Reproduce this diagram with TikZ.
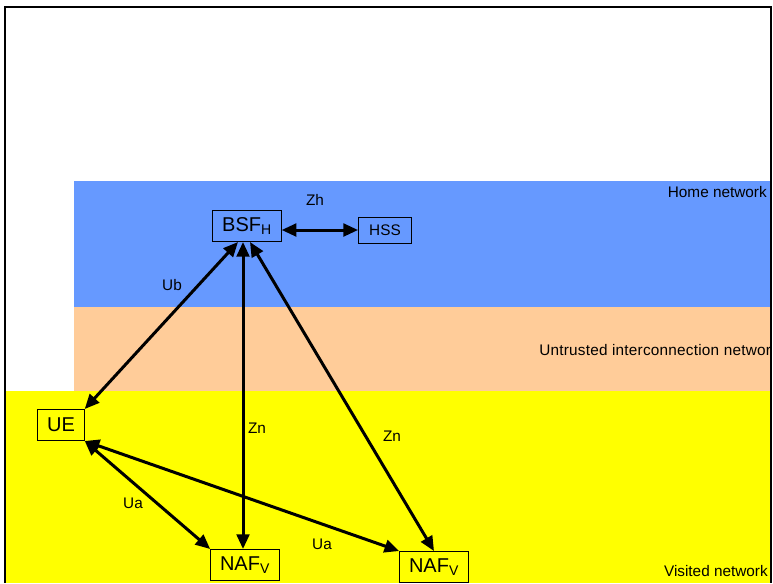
\documentclass[tikz,border=0pt]{standalone}
\usepackage{fontspec}
\setmainfont{Liberation Sans}
\usetikzlibrary{arrows.meta}
\definecolor{homeblue}{HTML}{6699FF}
\definecolor{transit}{HTML}{FFCC99}
\definecolor{visited}{HTML}{FFFF00}
\begin{document}
\begin{tikzpicture}[x=0.75pt,y=-0.75pt,
  box/.style={draw,line width=0.75pt,inner xsep=7pt,inner ysep=0pt,minimum height=23.25pt,font=\fontsize{15}{18}\selectfont},
  link/.style={line width=2.25pt,{Triangle[length=11pt,width=9.5pt]}-{Triangle[length=11pt,width=9.5pt]}},
  lbl/.style={font=\fontsize{11.5}{13}\selectfont,inner sep=0pt}]
\useasboundingbox (0,0) rectangle (773,583);
% network bands
\begin{scope}
\clip (5,7) rectangle (771,583);
\fill[homeblue] (74,181) rectangle (771,307);
\fill[transit] (74,307) rectangle (771,391);
\fill[visited] (5,391) rectangle (771,583);
\node[lbl,anchor=east] (home) at (767,192) {Home network};
\node[lbl,anchor=west] (untrusted) at (539,350) {\addfontfeature{LetterSpace=1.5}Untrusted interconnection network};
\node[lbl,anchor=east] (visitednet) at (768,571) {Visited network};
\end{scope}
\draw[line width=1.5pt] (5,583) -- (5,7) -- (771,7) -- (771,583);
% entities
\node[box] (bsf) at (247,226) {BSF\textsubscript{H}};
\node[box,font=\fontsize{11.5}{13}\selectfont,minimum height=19.5pt,inner xsep=8pt] (hss) at (385,230) {HSS};
\node[box] (ue) at (61,425) {UE};
\node[box] (nafa) at (245,565) {NAF\textsubscript{V}};
\node[box] (nafb) at (434,567) {NAF\textsubscript{V}};
% reference points
\draw[link] (bsf.east |- hss.west) -- (hss.west);
\draw[link] (ue.north east) -- ([xshift=-6.75pt]bsf.south);
\draw[link] ([xshift=-3pt]bsf.south) -- ([xshift=-1.5pt]nafa.north);
\draw[link] ([xshift=2.25pt]bsf.south) -- (nafb.north);
\draw[link] (ue.south east) -- (nafa.north west);
\draw[link] (ue.south east) -- (nafb.north west);
\node[lbl] (zh) at (315,200) {Zh};
\node[lbl] (ub) at (172,285) {Ub};
\node[lbl] (zna) at (257,428) {Zn};
\node[lbl] (znb) at (392,436) {Zn};
\node[lbl] (uaa) at (133,503) {Ua};
\node[lbl] (uab) at (322,544) {Ua};
\end{tikzpicture}
\end{document}
